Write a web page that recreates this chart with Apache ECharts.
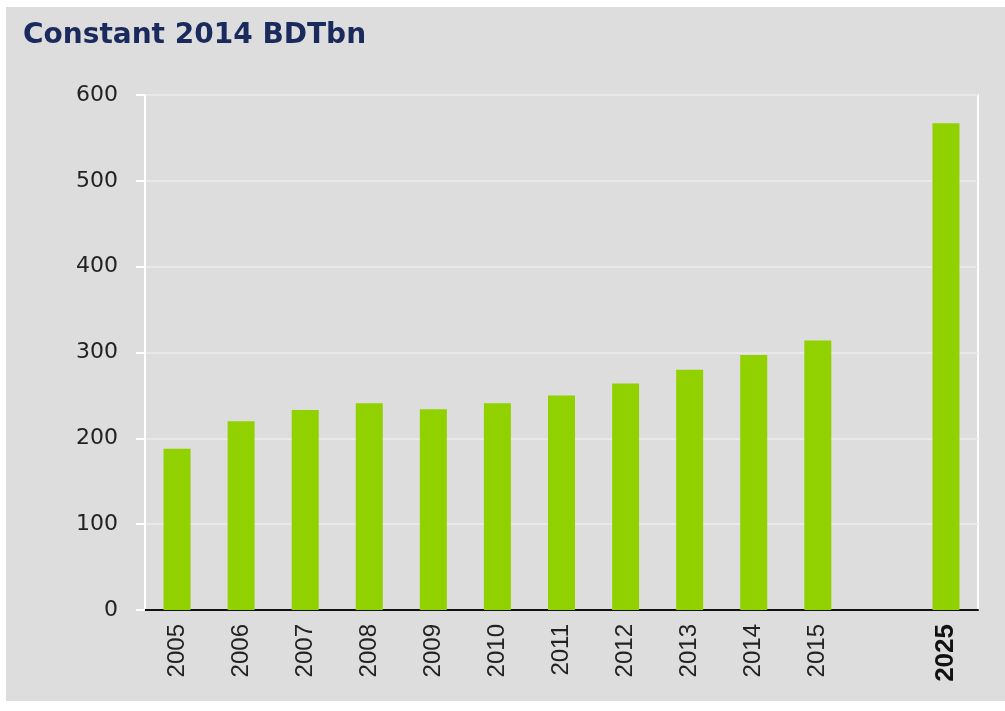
<!DOCTYPE html>
<html>
<head>
<meta charset="utf-8">
<script src="https://cdn.jsdelivr.net/npm/echarts@6/dist/echarts.min.js"></script>
<style>
    html, body { margin: 0; padding: 0; background: #ffffff; }
    #chart {
        position: absolute;
        left: 6px;
        top: 7px;
        width: 999px;
        height: 694px;
        background: #dddddd;
    }
</style>
</head>
<body>
<div id="chart"></div>
<script>
// 年份，2015 和 2025 之间留一个空位
var years = ['2005', '2006', '2007', '2008', '2009', '2010', '2011', '2012', '2013', '2014', '2015', '', '2025'];
var values = [188, 220, 233, 241, 234, 241, 250, 264, 280, 297, 314, '-', 567];
var yTicks = [0, 100, 200, 300, 400, 500, 600];

var chart = echarts.init(document.getElementById('chart'));

var option = {
    animation: false,
    title: {
        text: 'Constant 2014 BDTbn',
        left: 12,
        top: 10,
        textStyle: {
            fontFamily: 'DejaVu Sans',
            fontWeight: 'bold',
            fontSize: 28,
            color: '#1b2a5c'
        }
    },
    grid: {
        show: true,
        left: 139,
        right: 27,
        top: 88,
        bottom: 91,
        borderColor: '#ffffff',
        borderWidth: 2,
        backgroundColor: 'transparent'
    },
    xAxis: {
        type: 'category',
        data: years,
        axisLine: {
            lineStyle: { color: '#111111', width: 2 }
        },
        axisTick: { show: false },
        axisLabel: {
            interval: 0,
            rotate: 90,
            margin: 14,
            fontFamily: 'Liberation Sans',
            fontSize: 24,
            color: '#222222',
            formatter: function (v) {
                return v === '2025' ? '{b|' + v + '}' : v;   //2025 加粗
            },
            rich: {
                b: {
                    fontFamily: 'Liberation Sans',
                    fontWeight: 'bold',
                    fontSize: 26,
                    color: '#111111'
                }
            }
        }
    },
    yAxis: {
        type: 'value',
        min: yTicks[0],
        max: yTicks[yTicks.length - 1],
        interval: 100,
        axisLine: {
            show: true,
            lineStyle: { color: '#ffffff', width: 2 }
        },
        axisTick: {
            show: true,
            length: 9,
            lineStyle: { color: '#ffffff', width: 2 }
        },
        axisLabel: {
            margin: 27,
            fontFamily: 'DejaVu Sans',
            fontSize: 22,
            color: '#222222'
        },
        splitLine: {
            lineStyle: { color: '#e8e8e8', width: 2 }
        }
    },
    series: [{
        type: 'bar',
        data: values,
        barWidth: 27,
        itemStyle: { color: '#92d100' }
    }]
};
chart.setOption(option);
</script>
</body>
</html>
